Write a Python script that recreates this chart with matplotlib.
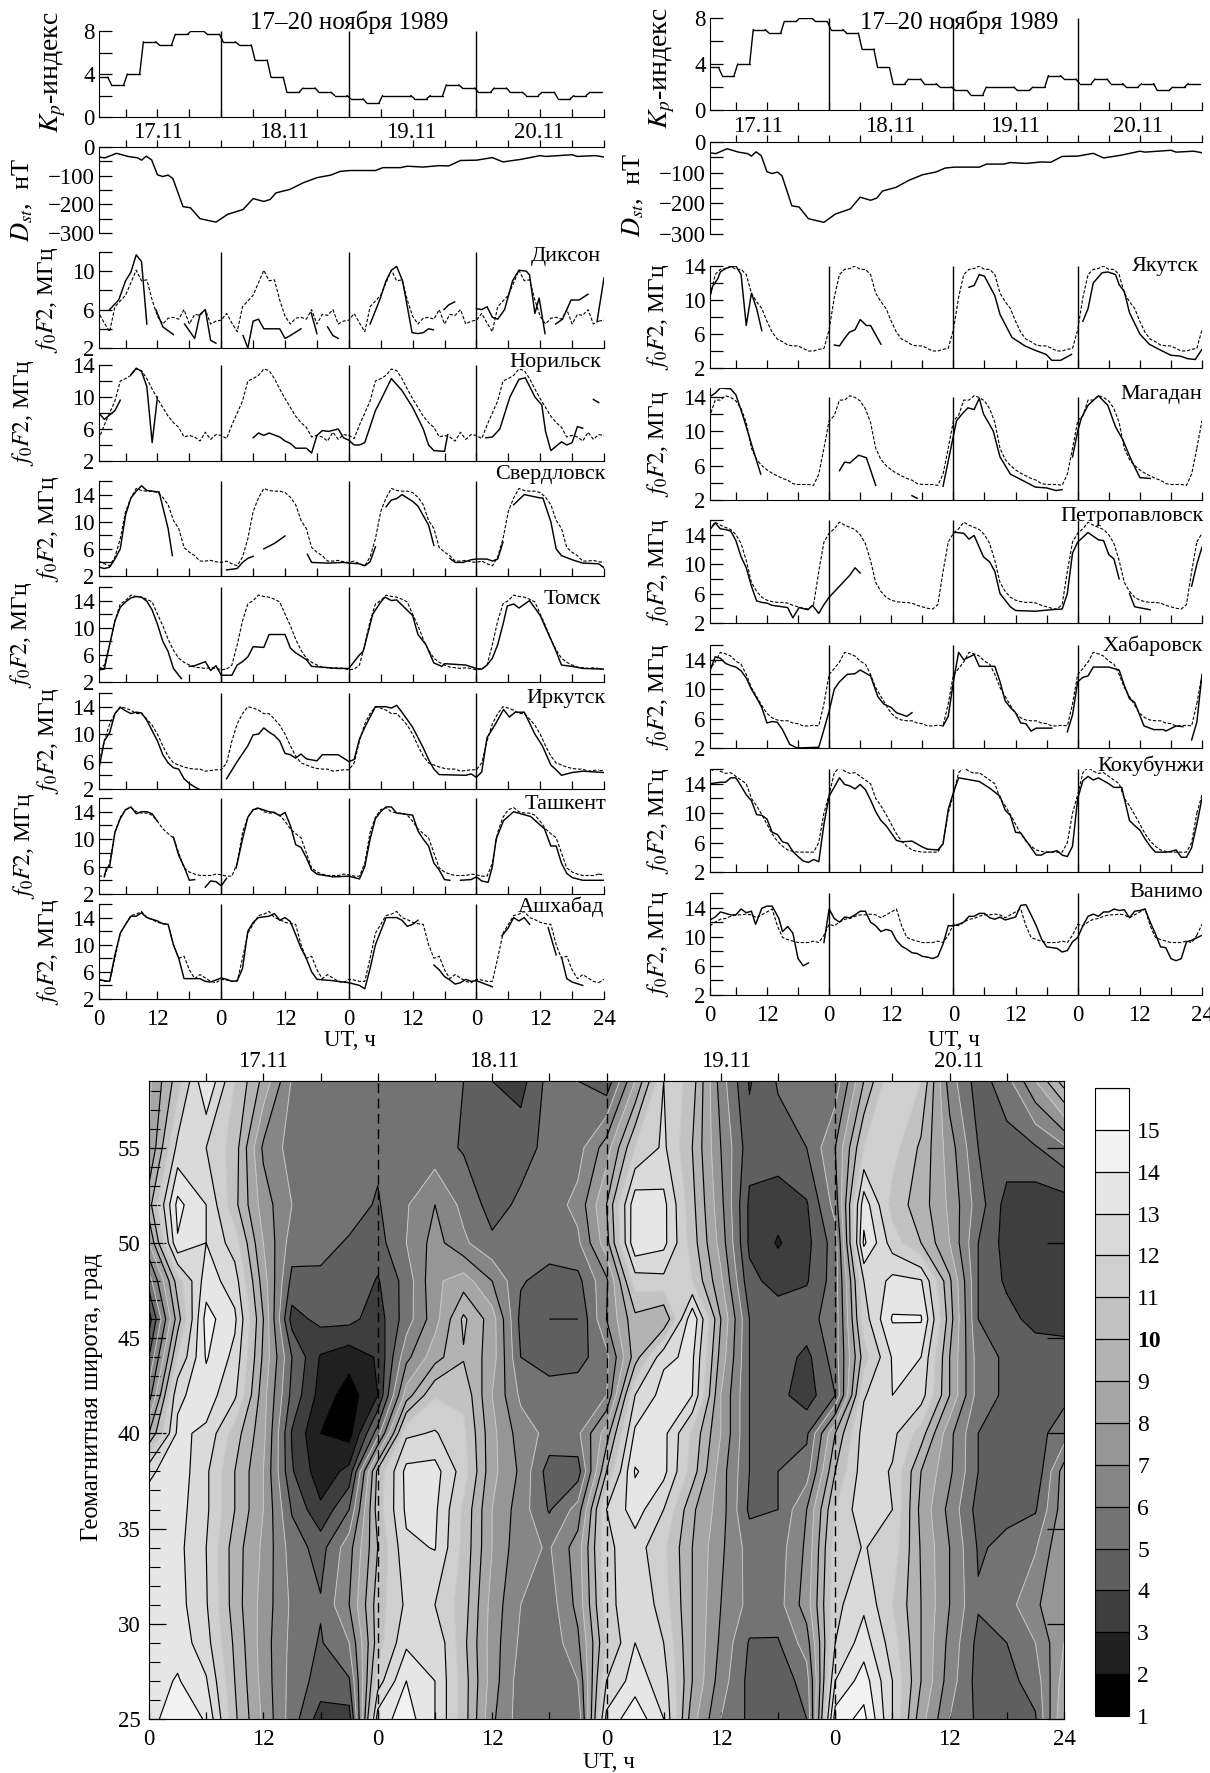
#!/usr/bin/env python3
import numpy as np
import matplotlib
matplotlib.use("Agg")
import matplotlib.pyplot as plt

plt.rcParams["font.family"] = ["Liberation Serif", "DejaVu Serif"]
plt.rcParams["mathtext.fontset"] = "stix"

W, H = 1210, 1773

# 3-hourly Kp
KP = [3.7, 3, 4, 7, 6.7, 7.7, 8, 7.7,
      7, 6.7, 5.3, 3.7, 2.3, 2.7, 2.3, 2,
      1.7, 1.3, 2, 2, 1.7, 2, 3, 2.7,
      2.3, 2.7, 2.3, 2, 2.3, 1.7, 2, 2.3]

DST_T = [1, 2.1, 4.3, 6.5, 8.3, 9, 9.9, 10.9, 12, 13, 14, 14.9, 16.8, 18.2, 20, 23, 25.2, 28.1, 30, 32,
         33.2, 34.3, 36.9, 39.4, 42, 44.6, 46.4, 48.2, 53, 54.4, 57.7, 59, 62, 65, 66.8, 69, 72, 75, 77,
         80.4, 84, 85, 90, 91, 94.4, 96]
DST_V = [-35, -38, -22, -33, -38, -46, -32, -45, -97, -103, -98, -110, -208, -212, -250, -262, -235, -218, -180, -190,
         -183, -160, -148, -125, -107, -98, -85, -82, -82, -72, -72, -67, -70, -65, -66, -47, -46, -37, -52,
         -43, -30, -33, -27, -33, -30, -35]

# hourly quiet medians (dashed), one day
MED_DIKSON = [4.9, 5.6, 4.6, 3.7, 6.3, 6.9, 7.5, 8.8, 10.1, 9, 9.1, 7, 5.3, 4.5, 5.1, 5.2, 5, 6, 4.5, 5.5, 5.4, 6, 4.5, 4.8]
MED_NORILSK = [5.2, 4.8, 6.5, 8, 9.5, 12, 12.3, 12.7, 13.5, 13.3, 12.3, 11, 9.8, 8.7, 7.6, 6.8, 6.2, 5, 5.2, 5, 4.5, 5.6, 4.7, 5.3]
MED_SVERDLOVSK = [4, 4.2, 3.8, 3.5, 4.8, 7.5, 11.5, 13.5, 14.9, 14.6, 14.5, 14.5, 14.3, 13.6, 12.5, 10.2, 9, 6.2, 5.5, 5, 4.2, 4.2, 4.3, 4.1]
MED_TOMSK = [3.8, 3.9, 4.5, 7.5, 11, 13.5, 14, 14.8, 14.6, 14.5, 14.2, 13.8, 12, 10.3, 8.3, 6.7, 5.5, 4.9, 4.5, 4.2, 4.1, 4, 4.1, 4]
MED_IRKUTSK = [4.8, 5.8, 9, 11.5, 13, 14, 13.8, 13.5, 13, 13, 12.2, 11.3, 10, 8.3, 6.8, 5.8, 5.5, 5.2, 5, 4.9, 4.9, 4.6, 4.7, 4.8]
MED_TASHKENT = [4.8, 4.6, 4.6, 6.5, 11, 13.2, 14.3, 14.6, 14, 13.8, 13.8, 13.5, 12.6, 11.5, 10.8, 10.2, 8, 5.8, 5.2, 4.9, 4.7, 4.7, 4.7, 4.9]
MED_ASHKHABAD = [4.9, 4.8, 4.6, 4.6, 8, 11.7, 13, 14.3, 14.5, 14.9, 14, 13.7, 13.3, 13.1, 13, 10, 8, 8.3, 6.3, 5, 5.6, 5.1, 4.6, 4.4]
MED_YAKUTSK = [6.5, 10.3, 13, 13.6, 13.7, 14, 13.6, 13.6, 13, 10.8, 9.8, 9, 7.5, 6.2, 5.4, 5.1, 4.7, 4.6, 4.6, 4.3, 4, 4, 4.2, 4.3]
MED_MAGADAN = [11.2, 11.8, 13.6, 13.6, 14.1, 13.9, 13.5, 12.6, 11, 8, 6.7, 6, 5.5, 5.1, 4.8, 4.5, 4.3, 3.9, 3.8, 3.8, 3.8, 3.7, 5, 8]
MED_PETROPAVLOVSK = [14.2, 14.8, 15.7, 15.3, 15, 14.7, 14, 12.8, 10.5, 7.5, 6.3, 5.5, 5.1, 4.9, 4.8, 4.8, 4.7, 4.4, 4.2, 4, 3.9, 4.5, 9, 13]
MED_KHABAROVSK = [12, 12.8, 13.7, 15, 14.8, 14.5, 13.8, 13.4, 12, 10.2, 9, 7.8, 6.7, 6.1, 5.8, 5.7, 5.7, 5.4, 5.3, 5, 5, 5.1, 5, 8]
MED_KOKUBUNJI = [12.5, 15.5, 16.2, 15.7, 15.4, 15.5, 15, 14.5, 14, 12, 11, 9.8, 8.5, 7.2, 6.2, 5.5, 5, 4.8, 4.7, 4.7, 4.7, 4.7, 6, 10]
MED_VANIMO = [11.7, 11.5, 12, 12.4, 12.5, 12.8, 13, 13, 13.1, 13, 12.6, 13, 13.4, 13.8, 11.5, 9.9, 9.6, 9.4, 9.2, 9.2, 9.2, 9.4, 9.2, 10.2]

# measured f0F2 (solid), broken into runs of (hour, MHz)
OBS_DIKSON = [
    [(3, 6), (4.7, 7), (6, 9), (7, 9.9), (8, 11.7), (9, 11), (10, 4.5)],
    [(11.7, 6), (13, 4.2), (15, 3.4)],
    [(17.1, 4.5), (19, 3), (20, 5.5), (21, 6), (22, 2.8), (23, 2.5)],
    [(28.1, 3.3), (29, 2), (30, 4.8), (31, 5), (32, 4), (35, 4), (36, 3), (37, 3.3), (39, 4)],
    [(40.9, 5.7), (42, 3.5)],
    [(44, 4.2), (45, 3.3), (46, 3)],
    [(52, 4.5), (53.8, 7), (55, 9), (56, 10.1), (57, 10.5), (58.1, 9), (59.9, 3.6), (61, 3.5), (62, 3.6), (63, 4), (63.9, 3.9)],
    [(65.9, 6), (66.8, 6.5), (67.9, 6.8)],
    [(72, 6.1), (73, 6), (74, 6.3), (75, 5.2), (76, 5), (77.3, 6), (78.8, 9), (80, 10.1), (81.4, 10), (82, 9.6), (83, 5.6), (83.8, 7.2), (84.9, 3.5)],
    [(86.9, 4.5), (88.2, 5), (89.8, 7), (91.3, 7), (93, 7.6)],
    [(94.7, 4.8), (96, 9.3)],
]
OBS_NORILSK = [
    [(1, 8), (2, 7.2), (4, 8.3), (5, 9.6)],
    [(7, 12.8), (8, 13.6), (9, 13.2), (10, 11.3), (11, 4.3), (12, 10)],
    [(30, 4.9), (31, 5.5), (32, 5.2), (33, 5.5), (35, 5), (36, 4.5), (37, 4.2), (38, 3.6), (40, 3.6), (41, 3), (42, 5.2), (43, 5.8),
     (44.2, 5.7), (46, 6), (47, 4.9), (48, 4.6), (49, 4), (50, 4), (51, 4.3), (53, 8.3), (54, 9.6), (56, 12.3), (58, 10.8), (60, 8.7),
     (62, 6), (63, 4), (64, 3.3), (66, 3.2), (66.6, 5.3)],
    [(73.8, 4.9), (75, 5), (76.4, 6), (78.3, 10), (80, 12.2), (81.2, 12.4), (83, 10), (84.3, 9), (85, 5.7), (86, 3.3), (88, 4.4), (89, 4), (90, 4.3), (91, 6.3), (92, 6.1)],
    [(94, 9.7), (95, 9.3)],
]
OBS_SVERDLOVSK = [
    [(1, 3.3), (2, 3.1), (3, 3.3), (4, 4.5), (5, 6), (6, 11), (7, 13.5), (8, 14.5), (9, 15.3), (10, 14.6), (12, 14.4), (12.3, 14.4), (14, 9), (14.8, 5)],
    [(25, 2.9), (27, 3.1), (28, 4), (29, 4.6), (30, 4.9)],
    [(32, 6), (34, 6.8), (36, 7.9)],
    [(40.2, 5.2), (41, 4), (44, 3.9), (47, 4), (48, 3.9), (50, 3.8), (51, 3.5), (52, 4.1), (53, 6.3)],
    [(55, 12.2), (56, 13.2), (57, 13.4), (58, 14), (60, 13), (61, 12.3), (63, 9.5), (64, 6.5)],
    [(67, 4.6), (68, 4), (69.5, 4), (71, 4.4), (72, 4.5), (74, 4.5), (75, 4.2), (76, 4.5), (77, 7)],
    [(79, 12.5), (81, 14), (84, 13.5), (84.5, 13.5), (86, 10), (87, 6), (88, 5), (90, 4.4), (92, 3.9), (95, 3.8), (96, 3.2)],
]
OBS_TOMSK = [
    [(1, 3.8), (2, 3.9), (3, 7.5), (4, 11), (5, 13), (6, 13.8), (7, 14.4), (8, 14.6), (9, 14.5), (10, 13.9), (11, 12.6), (12, 10.5), (13, 8), (14, 6.5), (15, 4), (16, 3), (16.5, 2.5)],
    [(18, 4.3), (19, 4.4), (20, 4.7), (21, 5), (22, 3.7), (23, 4.4), (24, 3), (26, 3), (27, 4.5), (28, 5), (29, 5.7), (30, 7.2), (32, 7.1), (33, 9), (36, 9), (37, 7), (38, 6.3), (40, 5.3), (41, 4.3), (46, 4),
     (48, 4), (50, 6), (50.7, 6.5), (52.5, 12), (54, 13.8), (54.8, 14.5), (56, 14), (57, 14.1), (60, 11.8), (61, 9), (62.5, 7.5), (64, 4.8), (65.5, 4.3), (66, 4.7), (70, 4.5), (72, 4), (73, 3.9), (74, 4.5), (75, 5.5), (76, 7.5), (77, 10.5), (77.8, 13.2), (79, 13.5), (80, 12.9), (82, 14), (84, 11.8), (85, 10), (86, 8.3), (87, 6.5), (88, 4.5), (90, 4.3), (92, 4), (96, 3.9)],
]
OBS_IRKUTSK = [
    [(1, 5), (2, 9), (3, 10.2), (4, 13), (5, 13.9), (6, 13.4), (7, 13), (8, 13.2), (9, 13.1), (10, 12), (11, 10.5), (12, 9), (13, 7), (14, 5.8), (15, 5.1), (16, 4.9), (17, 3.5), (18, 2.8), (19, 2.3), (20, 1.9)],
    [(25, 3.5), (27, 6), (29, 8.3), (30, 9.9), (31, 10), (32, 10.9), (33, 10.3), (34, 9.8), (35, 9), (36, 7.2), (37, 7), (38, 6.5), (39, 7.1), (40, 6.4), (42, 6.1), (43, 7), (46, 7), (48, 6), (49, 6.3), (50, 9.3), (51, 11), (52, 12.5), (53, 14), (55, 14), (56, 13.8), (57, 14.2), (58, 13.2), (60, 11), (61, 9.5), (62, 8), (63, 6.3), (64, 4.9), (65, 4.1), (70, 4), (71, 4.2), (72, 3.7), (73, 4.5), (74, 9.5), (75.6, 11.5), (77.1, 13.6), (78.2, 12.5), (79.3, 13.2), (81, 13.2), (83, 10), (84.4, 8.3), (86, 5.5), (87, 4.8), (88, 4), (90, 4.4), (92, 4.6), (96, 4.4)],
]
OBS_TASHKENT = [
    [(2, 4.5), (2.4, 5.8), (3, 6), (4, 11), (5, 13), (6, 14.3), (7, 14.7), (8, 13.7), (9, 14), (10, 14), (11, 13.7), (12, 12.6)],
    [(15, 10.3), (16, 7.6), (17, 6), (18, 4), (19, 4.1)],
    [(21, 3), (22, 3.9), (23, 3.8), (24, 3.2), (25, 4.3)],
    [(26.8, 5.8), (28, 10), (29, 13.2), (30, 14.3), (31, 14.5), (33, 14), (34, 13.9), (35, 13.4), (36, 13.9), (37, 12), (38, 9.2), (39, 8.8), (40, 7.3), (41, 5.5), (42, 4.9), (45, 4.5), (48, 4.6), (50, 4.2), (51, 6), (52, 10), (53, 13), (54, 14), (55, 14.7), (56, 14.7), (57, 13.8), (60, 13.5), (61, 11.2), (62, 10), (63, 9), (64, 6.5), (65, 5.5), (66, 4.1), (67, 4)],
    [(69, 4), (71, 4.1), (72, 4.5), (73, 3.9), (74.2, 3.7), (75, 6), (75.7, 10), (77.1, 12.7), (79, 14), (82.2, 13.3), (84.8, 11.5), (86, 9), (87, 9), (88, 6.5), (89, 5), (90, 4.4), (92, 4), (96, 4)],
]
OBS_ASHKHABAD = [
    [(1, 4.9), (2, 4.7), (3, 4.6), (4, 8.5), (5, 11.7), (6, 13), (7, 14.2), (8, 14.2), (9, 14.7), (10, 14), (12, 13.5), (13, 13.1), (14, 13), (15, 10), (16, 8), (17, 5), (20, 5), (21, 4.6), (22, 4.5), (24, 5.1), (25, 4.9), (26, 4.6), (27, 4.7), (28, 6.5), (29, 12), (30, 13.3), (31, 14), (33, 14.2), (34, 14.6), (35, 13.6), (36, 14), (37, 13.4), (38, 11.5), (39, 9.5), (40, 8), (41, 6), (42, 4.9), (45, 4.7), (48, 4.4), (50, 4), (51, 3.5), (52, 6.5), (53, 10), (54, 12), (55, 14), (57, 14), (58, 13.6), (59, 12.7), (60, 13), (61, 13.6)],
    [(64, 7), (65, 6.3), (66, 5.3), (67, 4.8), (68, 4.2), (69, 4.4), (70, 4.9), (71, 4.6), (72, 4.7), (73, 4.4), (75, 3.8)],
    [(76.8, 11.3), (78, 12.5), (79, 14), (80, 13.5), (81, 14), (82, 13)],
    [(85.5, 12.5), (87, 8.5)],
    [(88, 8.2), (89, 5), (90, 4.5), (92, 4)],
]
OBS_YAKUTSK = [
    [(1, 10.5), (1.5, 11.6), (2.5, 12.5), (3, 13.3), (4, 13.7), (5, 13.9), (6, 14), (7, 13), (8, 7), (9, 10.8), (10, 9), (11, 6.4)],
    [(25, 4.7), (26, 4.6), (27, 5.5), (27.9, 6.2), (29, 6.5), (30, 7.7), (31.2, 7), (32, 7), (33, 5.9), (34, 4.8)],
    [(51, 11.5), (52, 11.7), (53, 13), (54, 12.8), (56, 10.5), (57, 8.3), (59.3, 5.6), (61.8, 4.6), (63.7, 4.1), (65.9, 3.6), (67, 2.9), (68.7, 2.9), (70.8, 3.6)],
    [(73, 7.5), (74, 9), (75, 12), (76.7, 13.2), (77.8, 13.3), (79.3, 13), (80, 11.8), (81, 11), (82, 8.5), (84, 6), (85.8, 4.8), (88, 4.1), (90, 3.5), (91.8, 3.4), (93.2, 3.1), (94.7, 3), (96, 4.2)],
]
OBS_MAGADAN = [
    [(1, 14), (2, 14.4), (3, 15), (5, 14.9), (6, 14.2), (7.5, 11.5), (9, 8.5), (10.8, 5)],
    [(26, 5.4), (27, 6.4), (28, 6.3), (29.7, 7.2), (31.2, 6.9), (33, 3.7)],
    [(40, 2.5), (41, 2.2)],
    [(46, 3.6), (48.6, 11.2), (49.7, 12), (50.8, 12.7), (52, 12.5), (53, 13.8), (53.8, 12), (55.7, 10), (57, 7), (59, 5), (61.6, 4.2), (63.8, 3.5), (66, 3.4), (67.8, 3.1), (69, 3.2)],
    [(71, 7), (72, 10), (72.7, 11.5), (74, 13), (76, 14.1), (77.8, 13), (79.3, 10.5), (80.7, 9), (82.3, 6.7), (84, 4.6), (86, 4.5)],
]
OBS_PETROPAVLOVSK = [
    [(1, 14.7), (2, 15.6), (3, 14.8), (4, 14.7), (5, 14.5), (6, 13.2), (7, 11), (8, 9.5), (9, 7), (10, 5), (11, 4.8), (12, 4.7), (13, 4.4), (15, 4.2), (16, 4.1), (17, 2.7), (18.2, 4.1), (19.9, 3.8), (20.8, 4.4), (22, 3.3), (23, 4.5), (24, 5.5), (26, 7), (28, 8.5), (29, 9.5), (30, 8.8)],
    [(48, 14.3), (48.6, 14.3), (50, 14.2), (51, 13.4), (52, 13.9), (53.8, 11), (55, 10.3), (56, 9), (57, 6), (59, 4.2), (60, 3.7), (63.8, 3.6), (66.8, 3.8), (69, 3.9), (70, 6), (71, 11.5), (72, 13), (74, 14.3), (76, 13.3), (77, 13.2), (78, 11.3), (79, 10.7), (80, 8)],
    [(82, 6), (83, 4.2), (86, 3.8)],
    [(94, 7), (95, 10), (96, 12.3)],
]
OBS_KHABAROVSK = [
    [(1, 12.5), (2, 14.4), (3, 14.2), (4, 13.5), (5, 13.2), (6, 13), (7, 12.5), (8, 11.5), (9, 10), (10, 8.8), (11, 7.5), (12, 5.4), (13, 5.6), (14, 5.5), (15, 4.5), (16.4, 2.5), (17.8, 2), (22, 2.1), (23, 4.5), (24, 7), (25, 10), (26, 11), (27.5, 12), (29, 12.1), (30, 12.6), (32, 11.8), (33.4, 9), (34.5, 8), (36, 7.5), (37, 6.8), (39, 6.3), (40, 6.8)],
    [(46, 5), (47, 6.3), (48, 11), (49, 15), (50, 14), (52, 14.7), (53, 13.1), (56, 13.1), (57, 11), (58, 8.4), (59, 7.5), (60, 6.8), (61, 5.4), (62, 5.3), (63, 4.3), (64, 4.7), (67, 4.7)],
    [(70, 4.2), (71, 6.5), (72, 11), (73, 11.6), (74, 11.8), (75, 13), (78, 13), (80, 12.6), (81, 10.5), (82, 8.7), (83, 8.2), (84.8, 5), (86.7, 4.5), (88.6, 4.5), (89, 4.3), (91, 5), (92.3, 4.9)],
    [(94, 3.1), (95, 5.5), (96, 12)],
]
OBS_KOKUBUNJI = [
    [(1, 14), (3, 14.2), (4, 14.2), (5, 14.8), (6, 14.8), (7, 13.7), (8, 12.5), (9, 11.7), (10, 9.8), (11, 9.7), (12, 9.2), (13, 7.4), (14, 7.1), (15, 6.1), (16, 5.9), (17, 4.8), (18, 4.1), (19, 3.5), (20, 3.3), (21, 3.7), (22, 3.4), (23, 8.5), (24, 12.3), (26, 14.8), (27, 13.9), (28, 13.7), (29, 13.3), (30, 13.9), (31, 13.2), (32, 11.8), (33, 10.2), (34, 9), (35, 8.3), (36, 7.3), (37, 6.3), (38, 6.1), (40, 6.2), (42, 5.4), (43, 5.1), (45, 5), (46, 5.8), (47, 10.5), (48, 12.8), (49, 14.8), (53, 14.3), (55, 13.4), (57, 12.3), (58, 10.4), (59, 9.7), (60, 7.4), (61, 7.3), (62, 6.3), (63, 5.3), (64, 4.3), (65, 4.3), (66, 4.7), (67, 4.7), (68, 4.9), (69, 4.3), (70, 4.1), (71, 5.5), (72, 12), (73, 14.4), (74, 15), (75, 14.5), (76, 14.8), (78, 14), (79, 13.5), (80.5, 13.5), (82, 9), (83, 8.3), (84, 7.7), (85, 6.5), (86, 5.5), (87, 4.7), (89, 4.7), (90, 4.8), (91, 5), (92, 4), (93, 4), (94, 5.3), (95, 8.5), (96, 12)],
]
OBS_VANIMO = [
    [(1, 12.3), (2, 12.7), (3, 13.4), (4, 13.2), (5, 13), (6, 13), (7, 13.8), (8, 13.3), (9, 13.5), (9.8, 11.7), (11, 13.9), (12, 14.2), (13, 14.2), (14.3, 12.5), (15, 10.7), (16, 11.4), (17, 10.5), (18, 7), (19, 6), (20, 6.4)],
    [(23, 9.2), (24, 13.8), (25, 12.5), (26, 12), (27, 12.7), (28, 12.6), (29, 13), (30, 13.5), (31, 13.5), (32, 12), (33, 11.5), (34, 10.7), (35, 11), (36, 10.8), (37, 9.5), (38, 8.7), (39, 8.3), (40, 7.8), (41, 7.7), (42, 7.3), (43, 7.2), (44, 7), (45, 7.3), (46, 9), (47, 11.5), (48, 11.5), (49, 11.7), (50, 12), (51, 12.8), (52, 12.8), (53, 13.2), (54, 13.2), (55, 12.6), (56, 12.4), (57, 12.7), (58, 12.3), (59, 12.5), (60, 12.7), (61, 14.3), (62, 14.4), (63, 13), (64, 11.5), (65, 9.7), (66, 8.6), (67, 8.5), (68, 8.4), (69, 7.9), (70, 8.1), (71, 9.3), (72, 9.9), (73, 11.5), (74, 12.8), (75, 13.1), (76, 12.8), (77, 13.4), (78, 13.4), (79, 13.8), (80, 13.6), (81, 13.7), (82, 12.6), (83, 13.5), (84, 13.6), (85, 13.8), (86, 12), (87, 10.4), (88, 8.6), (89, 8.5), (90, 7), (91, 6.7), (92, 7), (93, 9.3), (94, 9.5), (96, 10.2)],
]

MAP_HOURS = list(range(0, 97, 3))
MAP_LATS = [25, 27, 29, 31, 34, 36, 38, 40, 42, 44, 46, 48, 50, 52, 55, 58.5]
MAP_F0F2 = [
    [13.6, 14.7, 13.9, 10.2, 7.8, 5.5, 3.5, 3.5, 13.5, 14.5, 13, 10.5, 7.2, 5.5, 5.5, 5.2, 13.3, 14.7, 13, 8.4, 6, 4.8, 4.6, 5, 14.5, 15.3, 12, 8.4, 6, 4.8, 4.6, 4.9, 9],
    [13.5, 14.1, 13.1, 10, 7.6, 5.6, 4.6, 4.9, 11.5, 14, 13, 10.5, 7.5, 5.5, 5.3, 6, 12, 13.5, 12.5, 9, 6.5, 4.7, 4.3, 5.5, 13, 14.5, 12, 9, 6.5, 4.6, 4.7, 5.4, 8.5],
    [13.5, 13.6, 12.4, 9.8, 7.5, 5.7, 4.9, 6, 10.5, 12.8, 12.9, 10.3, 7.5, 5.8, 5.3, 6.8, 11, 13, 12, 9, 6.8, 4.9, 4.9, 6.5, 12, 13.5, 11.5, 9, 6.7, 4.7, 5, 6, 8],
    [13.5, 13.4, 12.1, 9.5, 7.6, 5.8, 5.1, 7, 10.5, 12.2, 12, 10.5, 7.6, 6, 5.5, 7.3, 11.5, 13, 11.5, 9, 7, 5.7, 5.6, 7.5, 11.7, 12.8, 11, 9, 7, 5.1, 5.6, 6.8, 8],
    [13.5, 13.3, 12, 9.5, 7.8, 5.5, 4.6, 6.6, 10, 12.8, 13.05, 10.7, 8, 6.3, 5.9, 7.5, 11.8, 12.5, 11.2, 9, 7.2, 5.6, 5.5, 7.2, 11.5, 12.05, 11.6, 8.9, 7, 4.9, 5.2, 5.9, 8],
    [13.5, 13.4, 12.2, 10, 8, 4.9, 3.2, 5, 10.5, 13.2, 13.2, 10.8, 8, 6.5, 4.9, 6.4, 12, 13.5, 12, 9.2, 7.5, 4.8, 5, 7, 11, 12.7, 12, 8.7, 6.7, 4.6, 4.8, 4.9, 7.6],
    [12.8, 13.6, 12.2, 10, 8, 4.1, 2.4, 3.3, 10.3, 13.3, 13.4, 11.5, 8.3, 6.8, 4.5, 4.5, 10, 14.1, 13.3, 10.5, 7.5, 5, 5, 5.5, 10, 12.6, 11.9, 9, 7.2, 5, 4.7, 4.2, 7.5],
    [9, 13.2, 12.8, 10.5, 8.3, 3.9, 2, 1.6, 5.5, 11.8, 12.1, 11.2, 8.3, 6.5, 5.7, 5.8, 8.5, 13.2, 13.3, 10.8, 8, 5, 4.7, 4.8, 9, 12.5, 12.3, 10.5, 7.3, 5, 4.7, 4.7, 5.4],
    [6.5, 12.8, 13.5, 12.2, 8.4, 4.7, 2.6, 1.5, 3, 8.5, 10.9, 10.8, 8, 5.8, 5.5, 5.6, 6, 12, 13.4, 13, 8, 5, 4.3, 3.5, 5, 11.9, 13, 12.5, 9, 5.5, 4.8, 4.8, 4.8],
    [5, 11, 14.1, 12.7, 8.8, 5, 2.9, 2.4, 3.1, 6.7, 8.6, 9.9, 8.5, 5, 4.5, 4.6, 5.7, 9.5, 12.8, 13.2, 8.6, 5, 4.6, 3.7, 5.5, 10.5, 13.1, 13, 9, 5.5, 4.8, 4.7, 4.6],
    [3.5, 9.5, 14.4, 13.2, 9, 3.6, 4.3, 4.3, 3.5, 5.5, 7.6, 10.2, 8.5, 4.7, 4, 4, 7, 9.7, 9, 13.8, 9, 5, 4.6, 4.7, 5.4, 11.5, 14.1, 14.1, 9.5, 5, 4.4, 3.6, 3.5],
    [5.5, 10.5, 13.5, 12.5, 8.5, 4.7, 4.8, 4.9, 3.9, 5.4, 7.8, 8.5, 7, 5.1, 4.6, 4.7, 6.8, 11.5, 11.7, 11, 8.2, 4.3, 3.6, 3.9, 5.5, 12, 13.3, 13.1, 9.2, 5, 3.8, 3.5, 3.5],
    [8, 13.9, 13, 11.5, 8, 5.5, 5.3, 4.9, 4.6, 6, 7.4, 6.2, 5.2, 5.3, 5.5, 5.8, 8.6, 13.8, 13.3, 10.5, 7.6, 3.8, 2.9, 3.7, 5.5, 14.2, 11.5, 10, 8, 5, 3.6, 3.4, 3.5],
    [9.6, 14.3, 13, 10.3, 7.5, 6, 5.4, 5.4, 4.9, 5.9, 7, 5.7, 4.6, 5.2, 5.5, 6.3, 9, 13.7, 13.3, 10.3, 7.3, 3.8, 3.4, 3.9, 6.4, 13.6, 10.6, 9.5, 7.8, 5.5, 3.6, 3.4, 3.5],
    [8, 12.3, 12, 10.5, 6.8, 5.6, 5.4, 5.2, 5.2, 5.3, 5.4, 4.9, 4.5, 4.6, 5.3, 5.6, 7.5, 11, 12.2, 10, 7, 4.4, 4.6, 5, 7, 11, 11.4, 9.8, 7.5, 5, 4.6, 4.9, 5.8],
    [7.8, 10.5, 14, 11, 8.7, 5.9, 5.5, 5.4, 5.2, 5.4, 5.5, 5, 4, 3.6, 5.4, 5, 4.3, 8, 12, 10.5, 6.5, 3.9, 5.1, 5.2, 5.4, 9, 11.9, 11, 6.5, 4.5, 5.6, 8, 10.5],
]

MAP_LEVELS = list(range(1, 17))
MAP_GREYS = ["#000000", "#202020", "#3e3e3e", "#5f5f5f", "#737373", "#868686", "#969696", "#a6a6a6",
             "#b3b3b3", "#c2c2c2", "#cfcfcf", "#dadada", "#e6e6e6", "#f2f2f2", "#ffffff"]
LIGHT_LEVELS = [6, 8, 11]

DAY_NAMES = ["17.11", "18.11", "19.11", "20.11"]
DAY_TICKS = [24, 48, 72]
HOUR_TICK_LABELS = ["0", "12", "0", "12", "0", "12", "0", "12", "24"]

FS = 16.5


def add_axes_px(fig, left, top, right, bottom):
    return fig.add_axes([left / W, 1 - bottom / H, (right - left) / W, (bottom - top) / H])


def fig_text(fig, x, y, s, **kw):
    kw.setdefault("ha", "center")
    kw.setdefault("va", "center")
    kw.setdefault("fontsize", FS)
    fig.text(x / W, 1 - y / H, s, **kw)


def style_time_axis(ax, labels=False):
    ax.set_xlim(1, 96)
    ax.spines[["top", "right"]].set_visible(False)
    ax.set_xticks([1] + list(range(12, 97, 12)) if labels else list(range(12, 97, 12)))
    ax.set_xticks(list(range(6, 97, 12)), minor=True)
    ax.tick_params(axis="x", which="both", direction="in", length=6, width=0.9)
    if labels:
        ax.set_xticklabels(HOUR_TICK_LABELS, fontsize=FS)
        ax.tick_params(axis="x", which="major", pad=7)
    else:
        ax.set_xticklabels([])
    ax.tick_params(axis="y", which="both", direction="in", length=9, width=0.9, labelsize=FS, pad=3)


def draw_kp(fig, box, label_x, label_y):
    ax = add_axes_px(fig, *box)
    for i, v in enumerate(KP):
        hours = [i * 3 + 0.35, (i + 1) * 3 - 0.35]
        ax.plot(hours, [v, v], color="k", lw=1, solid_capstyle="round")
        if i + 1 < len(KP):
            ax.plot([hours[1], hours[1] + 0.7], [v, KP[i + 1]], color="k", lw=1, solid_capstyle="round")
    ax.vlines(DAY_TICKS, 0, 8, color="k", lw=1)
    style_time_axis(ax)
    ax.set_ylim(0, 8)
    ax.set_yticks([0, 4, 8])
    ax.set_yticks([2, 6], minor=True)
    fig_text(fig, label_x, label_y, r"$K_p$-индекс", rotation=90, fontsize=20)


def draw_dst(fig, box, label_x, label_y):
    ax = add_axes_px(fig, *box)
    ax.plot(DST_T, DST_V, color="k", lw=1.05)
    ax.set_xlim(1, 96)
    ax.set_ylim(-300, 0)
    ax.spines[["bottom", "right"]].set_visible(False)
    ax.xaxis.tick_top()
    ax.set_xticks(list(range(6, 97, 6)))
    ax.set_xticklabels([])
    ax.tick_params(axis="x", direction="out", length=5, width=0.9)
    ax.tick_params(axis="y", which="both", direction="in", length=9, width=0.9, labelsize=FS, pad=3)
    ax.set_yticks([0, -100, -200, -300])
    ax.set_yticklabels(["0", "\u2212100", "\u2212200", "\u2212300"])
    ax.set_yticks([-50, -150, -250], minor=True)
    fig_text(fig, label_x, label_y, r"$D_{st}$,  нТ", rotation=90, fontsize=19)


def draw_station(fig, box, name, med, obs, ylim, label_x, name_xy, vtop=None, labels=False):
    ax = add_axes_px(fig, *box)
    ax.plot(np.arange(96), np.tile(med, 4), color="k", lw=0.8, dashes=(3, 1.6))
    ax.plot([95, 96], [med[-1], med[0]], color="k", lw=0.8, dashes=(3, 1.6))
    for run in obs:
        hours, vals = zip(*run)
        ax.plot(hours, vals, color="k", lw=1.05)
    ax.vlines(DAY_TICKS, ylim[0], vtop if vtop else ylim[1], color="k", lw=1)
    style_time_axis(ax, labels)
    ax.set_ylim(*ylim)
    ax.set_yticks([v for v in (2, 6, 10, 14) if v <= ylim[1]])
    ax.set_yticks([v for v in (4, 8, 12, 16) if v <= ylim[1]], minor=True)
    fig_text(fig, label_x, (box[1] + box[3]) / 2, r"$f_0F2$, МГц", rotation=90, fontsize=17)
    fig_text(fig, name_xy[0], name_xy[1], name, ha="right", fontsize=16)


def draw_map(fig):
    ax = add_axes_px(fig, 149, 1081, 1064, 1719)
    grid = np.array(MAP_F0F2)
    cf = ax.contourf(MAP_HOURS, MAP_LATS, grid, levels=MAP_LEVELS, colors=MAP_GREYS)
    black = [v for v in MAP_LEVELS if v not in LIGHT_LEVELS]
    ax.contour(MAP_HOURS, MAP_LATS, grid, levels=black, colors="k", linewidths=0.85)
    ax.contour(MAP_HOURS, MAP_LATS, grid, levels=LIGHT_LEVELS, colors="#c8c8c8", linewidths=0.7)
    ax.vlines(DAY_TICKS, 25, 58.5, color="k", lw=1, linestyles=(0, (7, 4)))
    ax.set_xlim(0, 96)
    ax.set_ylim(25, 58.5)
    ax.set_xticks(list(range(0, 97, 12)))
    ax.set_xticklabels(HOUR_TICK_LABELS, fontsize=FS)
    ax.set_xticks(list(range(6, 97, 12)), minor=True)
    ax.tick_params(axis="x", which="both", direction="in", length=5, width=0.9, pad=7)
    ax.set_yticks(list(range(25, 56, 5)))
    ax.set_yticks([v for v in range(25, 59) if v % 5], minor=True)
    ax.tick_params(axis="y", which="major", direction="in", length=12, width=0.9, right=True, labelsize=FS, pad=6)
    ax.tick_params(axis="y", which="minor", direction="in", length=8, width=0.8)
    top = ax.secondary_xaxis("top")
    top.set_xticks(list(range(6, 96, 6)))
    top.set_xticklabels([])
    top.tick_params(direction="out", length=6, width=0.9)
    for hour, day in zip((12, 36.2, 60.5, 85), DAY_NAMES):
        ax.annotate(day, (hour, 58.5), xytext=(0, 14), textcoords="offset points", ha="center", va="center", fontsize=FS, annotation_clip=False)
    fig_text(fig, 92, 1397, "Геомагнитная широта, град", rotation=90, fontsize=17.7)
    fig_text(fig, 609, 1762, "UT, ч")

    cax = add_axes_px(fig, 1095, 1088, 1129, 1716)
    cb = fig.colorbar(cf, cax=cax, ticks=MAP_LEVELS[:-1])
    cb.ax.tick_params(length=0, labelsize=FS + 0.5, pad=6)
    cax.hlines(MAP_LEVELS, 0, 1, transform=cax.get_yaxis_transform(), color="k", lw=0.9)
    for lbl, v in zip(cb.ax.get_yticklabels(), MAP_LEVELS):
        if v == 10:
            lbl.set_fontweight("bold")
    cb.outline.set_linewidth(0.8)


def main():
    fig = plt.figure(figsize=(W / 100, H / 100), dpi=100)

    # left column
    lx0, lx1 = 99, 604
    draw_kp(fig, (lx0, 31, lx1, 117), 53, 72)
    draw_dst(fig, (lx0, 147, lx1, 233), 22, 200)
    left = [
        ("Диксон", MED_DIKSON, OBS_DIKSON, (2, 12), 252, 348, 47, (601, 256)),
        ("Норильск", MED_NORILSK, OBS_NORILSK, (2, 14), 365, 461, 23, (601, 363)),
        ("Свердловск", MED_SVERDLOVSK, OBS_SVERDLOVSK, (2, 16), 481, 576, 48, (606, 475)),
        ("Томск", MED_TOMSK, OBS_TOMSK, (2, 16), 587, 682, 21, (601, 600)),
        ("Иркутск", MED_IRKUTSK, OBS_IRKUTSK, (2, 16), 693, 789, 48, (606, 699)),
        ("Ташкент", MED_TASHKENT, OBS_TASHKENT, (2, 16), 798, 894, 24, (606, 805)),
        ("Ашхабад", MED_ASHKHABAD, OBS_ASHKHABAD, (2, 16), 904, 999, 48, (604, 907)),
    ]
    for i, (name, med, obs, ylim, top, bot, lab_x, name_xy) in enumerate(left):
        draw_station(fig, (lx0, top, lx1, bot), name, med, obs, ylim, lab_x, name_xy, labels=i == len(left) - 1)

    # right column
    rx0, rx1 = 710, 1202
    draw_kp(fig, (rx0, 18, rx1, 110), 662, 68)
    draw_dst(fig, (rx0, 142, rx1, 234), 633, 195)
    right = [
        ("Якутск", MED_YAKUTSK, OBS_YAKUTSK, (2, 14), 266, 368, None, (1199, 266)),
        ("Магадан", MED_MAGADAN, OBS_MAGADAN, (2, 15), 388, 500, 14, (1202, 395)),
        ("Петропавловск", MED_PETROPAVLOVSK, OBS_PETROPAVLOVSK, (2, 16), 520, 623, None, (1204, 517)),
        ("Хабаровск", MED_KHABAROVSK, OBS_KHABAROVSK, (2, 16), 645, 748, None, (1203, 646)),
        ("Кокубунжи", MED_KOKUBUNJI, OBS_KOKUBUNJI, (2, 16), 769, 872, None, (1204, 766)),
        ("Ванимо", MED_VANIMO, OBS_VANIMO, (2, 16), 893, 995, None, (1203, 893)),
    ]
    for i, (name, med, obs, ylim, top, bot, vtop, name_xy) in enumerate(right):
        draw_station(fig, (rx0, top, rx1, bot), name, med, obs, ylim, 658, name_xy, vtop=vtop, labels=i == len(right) - 1)

    fig_text(fig, 349, 22, "17\u201320 ноября 1989", fontsize=18)
    fig_text(fig, 959, 22, "17\u201320 ноября 1989", fontsize=18)
    for x, day in zip((158, 284, 411, 539), DAY_NAMES):
        fig_text(fig, x, 132, day)
    for x, day in zip((758, 890, 1015, 1138), DAY_NAMES):
        fig_text(fig, x, 127, day)
    fig_text(fig, 350, 1040, "UT, ч")
    fig_text(fig, 954, 1041, "UT, ч")

    draw_map(fig)
    fig.savefig("out.png", dpi=100)


if __name__ == "__main__":
    main()
